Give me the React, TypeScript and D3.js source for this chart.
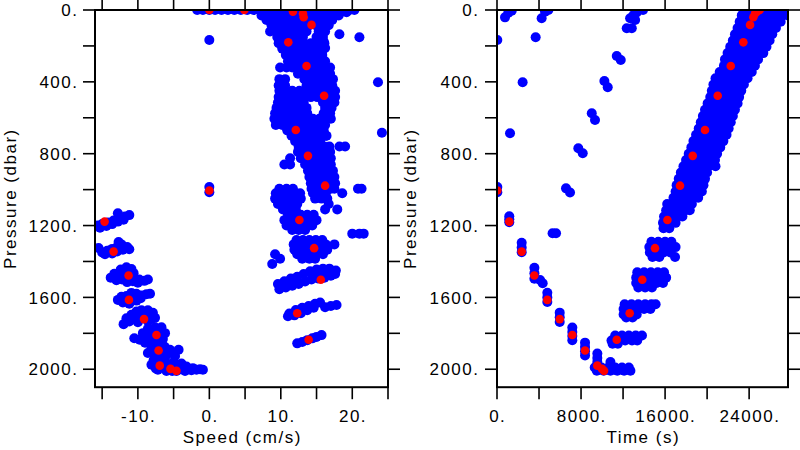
import React from "react";
import * as d3 from "d3";

// ---------- axis ticks ----------
const speedTicks = [-15, -10, -5, 0, 5, 10, 15, 20, 25];
const speedLabels = [-10, 0, 10, 20];
const timeTicks = [0, 4000, 8000, 12000, 16000, 20000, 24000];
const timeLabels = [0, 8000, 16000, 24000];
const pressureTicks = [0, 200, 400, 600, 800, 1000, 1200, 1400, 1600, 1800, 2000];
const pressureLabels = [0, 400, 800, 1200, 1600, 2000];

// ---------- left panel: rows [pressure, ...speeds] ----------
const speedBandRows: number[][] = [
  [0, -1.7, -0.9, 0, 0.8, 1.7, 2.6, 3.5, 4.4, 5.3, 6.2, 7.1, 8.0, 8.9, 9.8, 10.7, 11.6, 12.5, 13.4, 14.3, 15.2, 16.1, 17.0, 17.9, 18.8, 19.6, 20.3],
  [12, 7.6, 8.6, 9.5, 10.3, 11.2, 12.2, 13.0, 14.0, 14.8, 15.7, 16.6, 17.5, 18.4, 19.2],
  [30, 7.3, 8.2, 9.2, 10.1, 11.0, 11.9, 12.8, 13.8, 14.6, 15.5, 16.4, 17.3, 18.1],
  [55, 8.0, 9.0, 9.9, 10.8, 11.7, 12.6, 13.5, 14.5, 15.4, 16.3, 17.2],
  [85, 8.7, 9.6, 10.5, 11.4, 12.2, 13.2, 14.0, 14.9, 15.8, 16.7],
  [120, 8.5, 9.3, 10.2, 11.1, 12.0, 12.9, 13.6, 15.3, 16.2],
  [150, 9.5, 10.4, 11.3, 12.2, 13.1, 15.0, 15.9],
  [185, 9.7, 10.6, 11.5, 12.4, 13.3, 14.2, 15.0, 16.1],
  [215, 10.2, 11.0, 11.9, 12.8, 13.7, 14.6, 15.4, 16.0],
  [250, 10.7, 11.6, 12.5, 13.4, 14.3, 15.2, 15.8],
  [285, 11.0, 11.9, 12.8, 13.7, 14.6, 15.5, 16.2],
  [320, 9.9, 10.8, 11.6, 12.5, 13.4, 14.3, 15.2, 16.1, 16.9],
  [355, 12.4, 13.3, 14.2, 15.1, 16.0, 16.9],
  [385, 9.8, 10.6, 13.3, 14.2, 15.1, 16.0, 16.9, 17.3],
  [420, 9.7, 10.6, 13.6, 14.5, 15.4, 16.3, 17.2],
  [450, 9.8, 10.7, 11.6, 12.6, 13.5, 14.4, 15.3, 16.2, 17.1, 17.6],
  [485, 9.7, 10.6, 11.5, 12.4, 13.3, 14.2, 15.1, 16.0, 16.9, 17.6],
  [515, 9.6, 10.5, 11.4, 12.3, 13.2, 15.9, 16.8, 17.5],
  [545, 9.4, 10.3, 11.2, 12.1, 13.0, 13.6, 16.2, 17.1],
  [575, 9.2, 10.1, 11.0, 11.9, 12.8, 13.7, 16.0, 16.9],
  [605, 9.1, 10.0, 10.9, 11.8, 12.7, 13.6, 14.5, 15.4, 16.3, 17.0],
  [640, 9.3, 10.2, 11.1, 12.0, 12.9, 13.8, 14.7, 15.3, 16.2],
  [670, 10.9, 11.8, 12.7, 13.6, 14.5, 15.2, 16.0],
  [700, 11.5, 12.4, 13.3, 14.2, 15.1, 16.3],
  [730, 12.0, 12.9, 13.8, 14.7, 15.5],
  [760, 12.5, 13.4, 14.3, 15.2, 16.1, 16.8, 18.2, 19.0],
  [790, 12.4, 13.3, 14.2, 15.1, 16.0, 16.9],
  [825, 11.3, 12.8, 13.7, 14.6, 15.5, 16.4, 17.0],
  [860, 10.5, 11.3, 13.4, 14.3, 15.2, 16.1, 17.0],
  [895, 13.8, 14.7, 15.6, 16.5, 17.3],
  [930, 14.0, 14.9, 15.8, 16.7, 17.5],
  [965, 14.2, 15.1, 16.0, 16.9, 17.6],
  [995, 9.8, 10.8, 11.7, 14.3, 15.2, 16.1, 17.0, 17.5, 20.8, 21.3],
  [1020, 9.3, 10.2, 11.1, 12.0, 12.7, 14.5, 15.4, 16.3, 18.6],
  [1050, 9.2, 10.1, 11.0, 11.9, 12.8, 14.8, 15.7, 16.5],
  [1080, 9.6, 10.5, 11.4, 12.3, 16.7],
  [1110, 10.3, 11.2, 12.1, 16.2, 17.9],
  [1140, 11.0, 11.9, 12.8, 13.7, 14.6],
  [1170, 10.5, 11.4, 12.3, 13.2, 14.1, 15.0],
  [1200, 10.8, 11.7, 12.6, 13.5, 14.4],
  [1225, 11.6, 12.5, 13.4],
  [1245, 20.0, 21.0, 21.6],
  [1280, 12.2, 13.1, 14.0, 14.9, 15.8],
  [1305, 11.8, 12.7, 13.6, 14.5, 15.4, 16.3, 17.5],
  [1335, 11.9, 12.8, 13.7, 14.6, 15.5, 16.5],
  [1360, 9.2, 12.3, 13.2, 14.1, 15.0, 15.9],
  [1385, 9.9, 13.0, 14.0, 14.8],
  [1414, 8.8],
];

// left panel: individual [speed, pressure] points
const speedPoints: number[][] = [
  [0, 167], [0, 985], [0, 1015], [23.6, 402], [24.15, 683], [21, 152], [18.2, 135], [16.0, 175], [16.2, 212], [16.0, 690], [16.4, 700],
  // descent clusters
  [-15.7, 1200], [-15.0, 1192], [-14.2, 1183], [-13.4, 1172], [-12.6, 1160], [-11.8, 1150], [-11.2, 1142], [-15.3, 1212], [-14.4, 1203], [-13.6, 1192], [-12.8, 1178], [-12.0, 1168], [-12.8, 1132],
  [-15.5, 1325], [-15.0, 1350], [-14.3, 1340], [-13.6, 1330], [-13.6, 1355], [-12.9, 1320], [-12.9, 1345], [-12.7, 1292], [-12.3, 1305], [-12.1, 1335], [-11.5, 1320], [-11.2, 1332], [-14.6, 1360],
  [-13.8, 1490], [-13.3, 1468], [-13.0, 1505], [-12.4, 1445], [-12.4, 1480], [-12.2, 1500], [-11.6, 1432], [-11.6, 1460], [-11.5, 1515], [-10.9, 1442], [-10.9, 1495], [-10.6, 1465], [-10.7, 1510], [-10.0, 1518], [-9.8, 1500], [-9.1, 1508], [-8.6, 1500],
  [-12.8, 1614], [-12.3, 1597], [-12.1, 1628], [-11.6, 1620], [-11.6, 1592], [-10.9, 1575], [-10.9, 1605], [-10.7, 1595], [-10.2, 1580], [-10.2, 1618], [-9.5, 1590], [-9.6, 1605], [-8.8, 1582], [-8.3, 1580], [-11.2, 1635],
  [-11.6, 1716], [-11.2, 1734], [-10.9, 1697], [-10.4, 1720], [-10.2, 1679], [-10.0, 1738], [-9.5, 1672], [-9.5, 1700], [-8.6, 1672], [-8.6, 1732], [-8.8, 1700], [-7.9, 1686], [-7.6, 1714], [-8.1, 1720], [-12.0, 1749],
  [-10.5, 1827], [-9.75, 1836], [-9.3, 1799], [-9.2, 1820], [-8.6, 1775], [-8.5, 1800], [-8.4, 1845], [-7.6, 1766], [-7.8, 1790], [-6.7, 1766], [-6.8, 1785], [-6.2, 1799], [-6.5, 1832], [-7.0, 1820], [-9.0, 1852], [-7.4, 1852], [-8.0, 1830],
  [-8.6, 1910], [-8.1, 1882], [-7.9, 1905], [-7.6, 1926], [-6.95, 1866], [-6.9, 1890], [-6.25, 1875], [-6.3, 1905], [-6.0, 1920], [-5.5, 1892], [-4.8, 1926], [-4.3, 1892], [-5.2, 1910], [-7.0, 1925],
  [-8.1, 1975], [-7.8, 1950], [-7.5, 1995], [-6.7, 1950], [-6.8, 1985], [-6.0, 1966], [-5.0, 1960], [-5.5, 1980], [-3.9, 1968], [-4.5, 1985], [-3.2, 1985], [-7.2, 2003], [-6.0, 2010], [-5.2, 2010], [-4.6, 2010], [-3.4, 2010], [-2.5, 2006], [-1.8, 2003], [-0.9, 2003], [-2.3, 1994], [-1.3, 2000], [-6.3, 1958], [-4.0, 2000],
  // ascent levels
  [9.6, 1525], [10.5, 1510], [11.4, 1495], [12.3, 1485], [13.2, 1470], [14.1, 1455], [15.0, 1445], [15.9, 1440], [16.8, 1440], [17.7, 1450], [9.8, 1555], [10.7, 1545], [11.6, 1535], [12.5, 1525], [13.4, 1512], [14.3, 1500], [15.2, 1495], [16.1, 1490], [17.0, 1480], [17.6, 1470], [14.8, 1475], [15.7, 1465], [16.6, 1460], [17.4, 1458], [12.0, 1510],
  [11.0, 1705], [11.2, 1690], [11.9, 1700], [12.1, 1670], [12.8, 1688], [13.0, 1658], [13.7, 1672], [13.9, 1648], [14.6, 1658], [14.8, 1635], [15.5, 1628], [16.2, 1655], [17.0, 1648], [17.8, 1642],
  [12.3, 1856], [13.0, 1848], [13.7, 1838], [14.4, 1828], [15.0, 1820], [15.7, 1810],
];

// ---------- right panel: rows [pressure, ...times] ----------
const timeBandRows: number[][] = [
  [0, 23450, 24100, 24750, 25400, 26050, 26700, 27350, 27700, 13900, 4890],
  [30, 23300, 23950, 24600, 25250, 25900, 26550, 27200, 27700],
  [65, 23100, 23750, 24400, 25050, 25700, 26350, 27000],
  [100, 22900, 23550, 24200, 24850, 25500, 26100, 26550],
  [135, 22650, 23300, 23950, 24600, 25250, 25800, 26200],
  [170, 22450, 23100, 23750, 24400, 25050, 25600, 25950],
  [205, 22200, 22850, 23500, 24150, 24800, 25300, 25650],
  [240, 21950, 22600, 23250, 23900, 24550, 25000, 25350],
  [275, 21700, 22350, 23000, 23650, 24300, 24850],
  [310, 21600, 22250, 22900, 23550, 24100, 24550],
  [345, 21200, 21850, 22500, 23150, 23750, 24250],
  [380, 20800, 21450, 22100, 22750, 23350, 23850],
  [415, 20600, 21250, 21900, 22550, 23100, 23500],
  [450, 20450, 21100, 21750, 22400, 22900, 23250],
  [485, 20300, 20950, 21600, 22250, 22700, 23050],
  [520, 20050, 20700, 21350, 22000, 22500, 22900],
  [555, 19800, 20450, 21100, 21750, 22250, 22650],
  [590, 19600, 20250, 20900, 21550, 22050, 22450],
  [625, 19400, 20050, 20700, 21350, 21850, 22250],
  [660, 19200, 19850, 20500, 21150, 21650, 22050],
  [695, 18950, 19600, 20250, 20900, 21450, 21850],
  [730, 18700, 19350, 20000, 20650, 21150, 21550],
  [765, 18500, 19150, 19800, 20450, 20900, 21250],
  [800, 18250, 18900, 19550, 20200, 20650, 20950],
  [835, 18000, 18650, 19300, 19950, 20400, 20750],
  [870, 17750, 18400, 19050, 19700, 20150, 20800],
  [905, 17500, 18150, 18800, 19450, 20000],
  [940, 17300, 17950, 18600, 19250, 19800],
  [975, 17100, 17750, 18400, 19050, 19650],
  [1010, 17000, 17650, 18300, 18950, 19500],
  [1045, 16800, 17450, 18100, 18750, 19150],
  [1080, 16200, 16850, 17500, 18150, 18550],
  [1115, 16100, 16750, 17400, 17950, 18350],
  [1150, 15900, 16550, 17150, 17650],
  [1185, 15800, 16450, 17000],
  [1215, 15850, 16400],
  [1290, 14700, 15350, 16000, 16600],
  [1320, 14500, 15150, 15800, 16450, 17000],
  [1350, 14550, 15200, 15850, 16500],
  [1375, 14800, 15450, 16950],
  [1460, 13350, 14000, 14650, 15300, 15900],
  [1490, 13250, 13900, 14550, 15200, 15850, 16100],
  [1520, 13250, 13900, 14550, 15200, 15800],
  [1545, 13450, 14100, 14750],
  [1638, 12150, 12800, 13450, 14100, 14700, 15100],
  [1665, 12050, 12700, 13350, 14000, 14600],
  [1695, 12050, 12700, 13300],
  [1712, 12300, 12900],
  [1812, 11250, 11900, 12550, 13200, 13800],
  [1840, 10900, 11550, 12200, 12850, 13350],
  [1858, 11000, 11500],
  [1960, 10800],
  [1990, 9300, 9950, 10600, 11250, 11900, 12550],
  [2008, 9500, 10150, 10800, 11450, 12100, 12700],
];

// right panel: individual [time, pressure] points
const timePoints: number[][] = [
  [762, 41], [1080, 15], [1400, 4], [4250, 46], [4570, 9], [3680, 152], [2440, 402], [1240, 686],
  [12670, 46], [13000, 28], [13300, 14], [13150, 56], [12350, 102], [12830, 102], [11400, 256], [11780, 278],
  [10220, 395], [10540, 430], [9020, 575], [9330, 612], [7740, 770], [8160, 798], [6570, 993], [6950, 1016],
  [30, 167], [30, 985], [30, 1015], [5290, 1243], [5620, 1243],
  [1170, 1148], [1170, 1165], [1170, 1181],
  [2350, 1296], [2350, 1322], [2350, 1348],
  [3560, 1435], [3560, 1465], [3560, 1496], [4100, 1503], [4350, 1521],
  [4790, 1574], [4790, 1600], [4790, 1626],
  [5970, 1685], [5970, 1711], [5970, 1737],
  [7170, 1768], [7170, 1792], [7170, 1815], [7170, 1839],
  [8380, 1852], [8380, 1876], [8380, 1900], [8380, 1923],
  [9550, 1913], [9550, 1937], [9550, 1960],
];

// ---------- red points: [speed, pressure, time] ----------
const redPoints: number[][] = [
  [0, 0, 25000], [4.9, 0, 24950], [11.7, 9, 24750], [13.1, 20, 24560], [13.2, 40, 24400], [14.3, 83, 24090],
  [11.05, 180, 23450], [13.6, 312, 22250], [16.06, 477, 21010], [12.1, 668, 19800], [13.8, 812, 18630],
  [16.2, 978, 17420], [12.6, 1169, 16220], [14.66, 1326, 15040], [15.6, 1502, 13830], [12.3, 1688, 12630],
  [13.9, 1836, 11400], [-4.6, 2009, 10190], [-5.44, 1998, 10000], [-6.94, 1980, 9550], [-7.1, 1896, 8380],
  [-7.4, 1809, 7170], [-9.14, 1721, 5970], [-11.25, 1614, 4790], [-11.3, 1478, 3550], [-13.4, 1345, 2350],
  [-14.66, 1178, 1170], [0, 1005, 30],
];

const FONT = "'Liberation Sans', Arial, Helvetica, sans-serif";
const FS = 17;
const LS = 1.5;
const TICK = 12;

const fmt = (v: number) => `${v}.`;

type PanelProps = {
  id: string;
  x0: number;
  x1: number;
  xDomain: [number, number];
  xTicks: number[];
  xLabels: number[];
  xTitle: string;
  blue: number[][];
  red: number[][];
  yLabelX: number;
  yTickLabelX: number;
};

const Y0 = 10;
const Y1 = 387.2;

function Panel(p: PanelProps) {
  const x = d3.scaleLinear().domain(p.xDomain).range([p.x0, p.x1]);
  const y = d3.scaleLinear().domain([0, 2100]).range([Y0, Y1]);
  const cx = (p.x0 + p.x1) / 2;
  const cy = (Y0 + Y1) / 2;
  return (
    <g>
      <defs>
        <clipPath id={p.id}>
          <rect x={p.x0} y={Y0} width={p.x1 - p.x0} height={Y1 - Y0} />
        </clipPath>
      </defs>
      <g clipPath={`url(#${p.id})`}>
        {p.blue.map((d, i) => (
          <circle key={"b" + i} cx={x(d[0])} cy={y(d[1])} r={5} fill="#0000ff" />
        ))}
        {p.red.map((d, i) => (
          <circle key={"r" + i} cx={x(d[0])} cy={y(d[1])} r={4.3} fill="#ff0000" />
        ))}
      </g>
      <rect x={p.x0} y={Y0} width={p.x1 - p.x0} height={Y1 - Y0} fill="none" stroke="#000" strokeWidth={2} />
      {p.xTicks.map((t) => (
        <g key={"xt" + t}>
          <line x1={x(t)} x2={x(t)} y1={Y0} y2={Y0 - TICK} stroke="#000" strokeWidth={1.6} />
          <line x1={x(t)} x2={x(t)} y1={Y1} y2={Y1 + TICK} stroke="#000" strokeWidth={1.6} />
        </g>
      ))}
      {pressureTicks.map((t) => (
        <g key={"yt" + t}>
          <line x1={p.x0} x2={p.x0 - TICK} y1={y(t)} y2={y(t)} stroke="#000" strokeWidth={1.6} />
          <line x1={p.x1} x2={p.x1 + TICK} y1={y(t)} y2={y(t)} stroke="#000" strokeWidth={1.6} />
        </g>
      ))}
      {p.xLabels.map((t) => (
        <text key={"xl" + t} x={x(t) + LS / 2} y={422} textAnchor="middle" fontFamily={FONT} fontSize={FS} letterSpacing={LS} fill="#000">
          {fmt(t)}
        </text>
      ))}
      {pressureLabels.map((t) => (
        <text key={"yl" + t} x={p.yTickLabelX + LS} y={y(t)} dy="0.36em" textAnchor="end" fontFamily={FONT} fontSize={FS} letterSpacing={LS} fill="#000">
          {fmt(t)}
        </text>
      ))}
      <text x={cx + LS / 2} y={443} textAnchor="middle" fontFamily={FONT} fontSize={FS} letterSpacing={LS} fill="#000">
        {p.xTitle}
      </text>
      <text transform={`translate(${p.yLabelX},${cy}) rotate(-90)`} textAnchor="middle" fontFamily={FONT} fontSize={FS} letterSpacing={LS} fill="#000">
        Pressure (dbar)
      </text>
    </g>
  );
}

export default function App() {
  const flat = (rows: number[][]) => rows.flatMap(([pr, ...xs]) => xs.map((v) => [v, pr]));
  const leftBlue = [...flat(speedBandRows), ...speedPoints];
  const rightBlue = [...flat(timeBandRows), ...timePoints];
  const leftRed = redPoints.map((d) => [d[0], d[1]]);
  const rightRed = redPoints.map((d) => [d[2], d[1]]);
  return (
    <svg width={800} height={450} style={{ position: "absolute", left: 0, top: 0, background: "#fff" }}>
      <rect width={800} height={450} fill="#fff" />
      <Panel id="clipL" x0={95} x1={388} xDomain={[-16, 25]} xTicks={speedTicks} xLabels={speedLabels} xTitle="Speed (cm/s)" blue={leftBlue} red={leftRed} yLabelX={16} yTickLabelX={77} />
      <Panel id="clipR" x0={497} x1={788} xDomain={[0, 27700]} xTicks={timeTicks} xLabels={timeLabels} xTitle="Time (s)" blue={rightBlue} red={rightRed} yLabelX={416} yTickLabelX={478} />
    </svg>
  );
}
